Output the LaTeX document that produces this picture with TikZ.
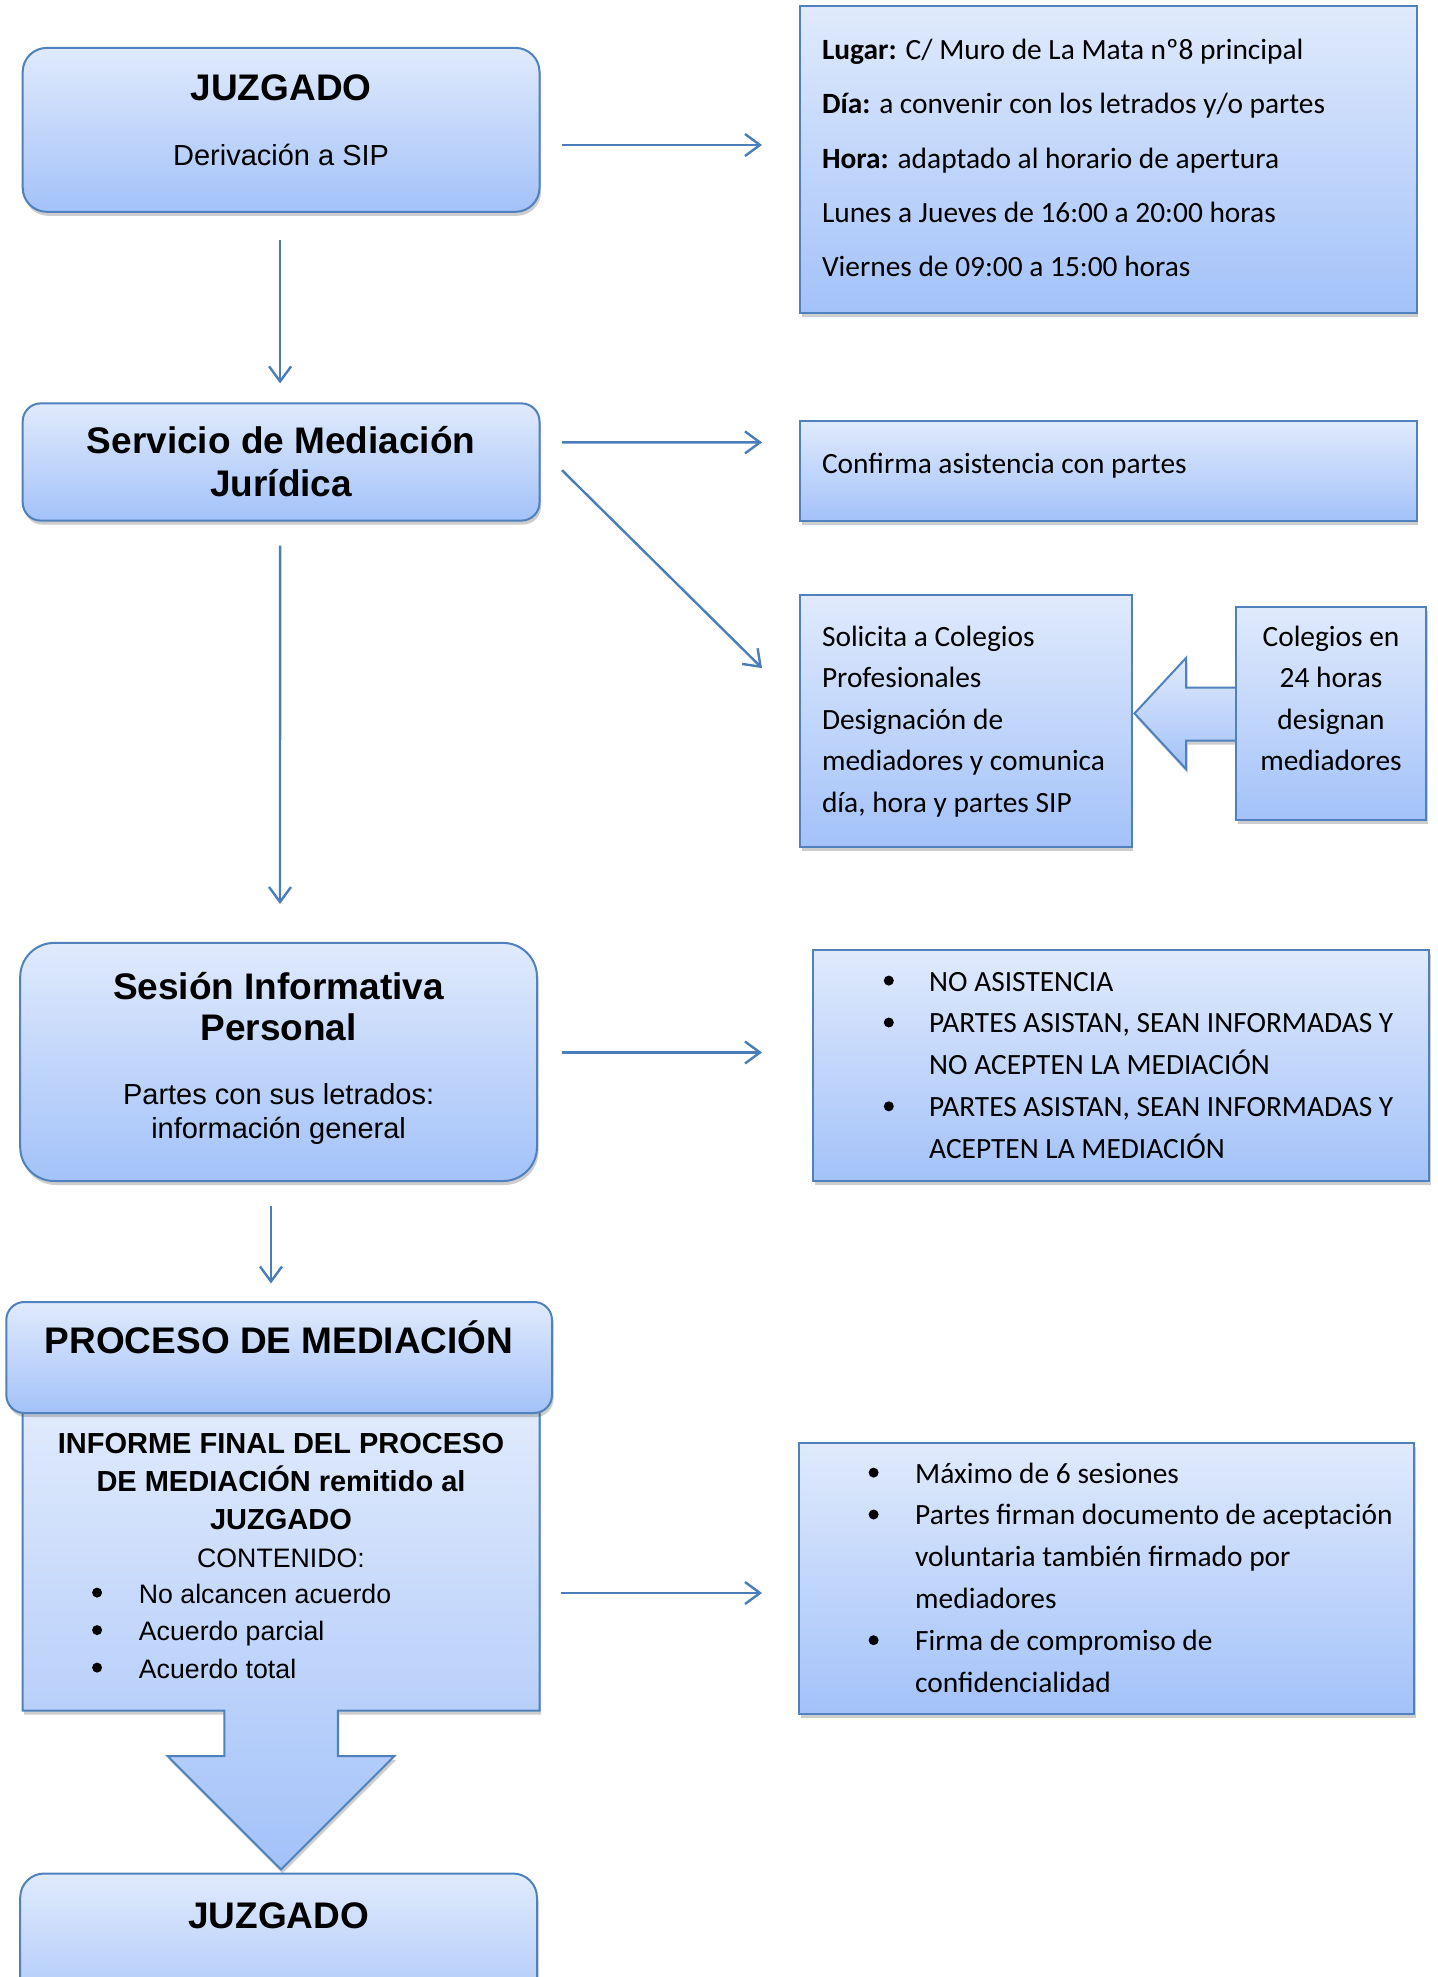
\documentclass[tikz,border=0pt]{standalone}
\usepackage{fontspec}
\setmainfont{Liberation Sans}
\newfontfamily\calfont{Carlito}
\usetikzlibrary{arrows.meta,shadows,calc}
\definecolor{bord}{RGB}{79,129,189}
\definecolor{arrc}{RGB}{74,126,187}
\definecolor{gtop}{RGB}{224,234,252}
\definecolor{gbot}{RGB}{163,194,249}
\newcommand\bitem[1]{\hspace*{#1}}
\begin{document}
\begin{tikzpicture}[x=1pt,y=-1pt,
  sh/.style={drop shadow={shadow xshift=1.5pt,shadow yshift=-4pt,opacity=0.28,fill=black!70}},
  panel/.style={draw=bord,line width=2pt,top color=gtop,bottom color=gbot,sh,inner sep=0pt},
  rpanel/.style={panel,rounded corners=#1},
  arr/.style={draw=arrc,line width=2.4pt,-{Straight Barb[length=15pt,width=22pt]}},
  ttl/.style={font=\fontsize{37}{43}\selectfont\bfseries,inner sep=0pt},
  txt/.style={font=\fontsize{29}{34}\selectfont,inner sep=0pt},
  cal/.style={font=\calfont\fontsize{29.4}{#1}\selectfont,inner sep=0pt,align=flush left},
  dot/.style={fill=black},
]
\path[use as bounding box,fill=white] (0,0) rectangle (1437,1977);

% ---------- left column ----------
\node[rpanel=24pt,minimum width=516.8pt,minimum height=163.9pt] (juz1) at (281.1,129.85) {};
\node[ttl,anchor=base] (juz1t) at (281.1,101) {JUZGADO};
\node[txt,anchor=base] (juz1s) at (281.1,165.4) {Derivación a SIP};

\node[rpanel=18pt,minimum width=516.8pt,minimum height=117.2pt] (serv) at (281.1,462) {};
\node[ttl,anchor=base,text width=510pt,align=flush center] (servt) at (281.1,453) {Servicio de Mediación\\Jurídica};

\node[rpanel=34pt,minimum width=516.8pt,minimum height=238.1pt] (ses) at (278.6,1061.95) {};
\node[ttl,anchor=base,text width=510pt,align=flush center,font=\fontsize{37}{41}\selectfont\bfseries] (sest) at (278.6,999.5) {Sesión Informativa\\Personal};
\node[txt,anchor=base,text width=510pt,align=flush center] (sess) at (278.6,1104) {Partes con sus letrados:\\información general};

% callout with down arrow
\path[panel] (22.7,1410) -- (539.5,1410) -- (539.5,1710.5) -- (337.8,1710.5) -- (337.8,1756)
  -- (394.5,1756) -- (281,1869.4) -- (167.6,1756) -- (224.4,1756) -- (224.4,1710.5)
  -- (22.7,1710.5) -- cycle;
\node[rpanel=18pt,minimum width=545.7pt,minimum height=111pt] (proc) at (279.15,1357.5) {};
\node[ttl,anchor=base] (proct) at (279.15,1353) {PROCESO DE MEDIACIÓN};
\node[txt,anchor=base,text width=520pt,align=flush center,font=\fontsize{29}{38.3}\selectfont] (inft) at (281,1453)
  {\textbf{INFORME FINAL DEL PROCESO}\\\textbf{DE MEDIACIÓN remitido al}\\\textbf{JUZGADO}\\{\fontsize{26.7}{38.3}\selectfont CONTENIDO:}};
\node[txt,anchor=base west,text width=420pt,align=flush left,font=\fontsize{26.7}{37.5}\selectfont] (infb) at (92,1603)
  {\bitem{46.7pt}No alcancen acuerdo\\\bitem{46.7pt}Acuerdo parcial\\\bitem{46.7pt}Acuerdo total};
\foreach \dy in {0,37.5,75} \fill[dot] ($(infb.base west)+(5.1,\dy-10.4)$) circle (5pt);
\coordinate (calr) at (539.5,1593);

\node[rpanel=24pt,minimum width=516.8pt,minimum height=164pt] (juz2) at (278.6,1955.5) {};
\node[ttl,anchor=base] (juz2t) at (278.6,1928) {JUZGADO};

% ---------- right column ----------
\node[panel,minimum width=616.4pt,minimum height=306.3pt] (info) at (1108.6,159.45) {};
\node[cal=54.3,anchor=base west,text width=590pt] (infot) at (821.8,59.5)
  {\textbf{Lugar:} C/ Muro de La Mata nº8 principal\\
   \textbf{Día:} a convenir con los letrados y/o partes\\
   \textbf{Hora:} adaptado al horario de apertura\\
   Lunes a Jueves de 16:00 a 20:00 horas\\
   Viernes de 09:00 a 15:00 horas};

\node[panel,minimum width=616.4pt,minimum height=99.6pt] (conf) at (1108.6,470.8) {};
\node[cal=35,anchor=base west] (conft) at (821.8,473.5) {Confirma asistencia con partes};

\node[panel,minimum width=331.5pt,minimum height=252pt] (sol) at (966.15,721) {};
\node[cal=41.6,anchor=base west,text width=310pt] (solt) at (821.8,646)
  {Solicita a Colegios\\Profesionales\\Designación de\\mediadores y comunica\\día, hora y partes SIP};
\draw[panel] (1134.5,713.4) -- (1186,658) -- (1186,687.5) -- (1240,687.5) -- (1240,740.5)
  -- (1186,740.5) -- (1186,769) -- cycle;
\node[panel,minimum width=190pt,minimum height=213pt] (col) at (1331,713.5) {};
\node[cal=41.6,anchor=base,text width=185pt,align=flush center] (colt) at (1331,646)
  {Colegios en\\24 horas\\designan\\mediadores};

\node[panel,minimum width=616.4pt,minimum height=230.6pt] (nob) at (1121.2,1065.7) {};
\node[cal=41.9,anchor=base west,text width=540pt] (nobt) at (883.7,991)
  {\bitem{45.3pt}NO ASISTENCIA\\
   \bitem{45.3pt}PARTES ASISTAN, SEAN INFORMADAS Y\\
   \bitem{45.3pt}NO ACEPTEN LA MEDIACIÓN\\
   \bitem{45.3pt}PARTES ASISTAN, SEAN INFORMADAS Y\\
   \bitem{45.3pt}ACEPTEN LA MEDIACIÓN};
\foreach \dy in {0,41.9,125.7} \fill[dot] ($(nobt.base west)+(5.1,\dy-10.4)$) circle (5pt);

\node[panel,minimum width=615.3pt,minimum height=271.3pt] (maxb) at (1106.65,1578.65) {};
\node[cal=41.9,anchor=base west,text width=540pt] (maxt) at (868.5,1483)
  {\bitem{46.5pt}Máximo de 6 sesiones\\
   \bitem{46.5pt}Partes firman documento de aceptación\\
   \bitem{46.5pt}voluntaria también firmado por\\
   \bitem{46.5pt}mediadores\\
   \bitem{46.5pt}Firma de compromiso de\\
   \bitem{46.5pt}confidencialidad};
\foreach \dy in {0,41.9,167.6} \fill[dot] ($(maxt.base west)+(5.1,\dy-10.4)$) circle (5pt);

% ---------- connectors ----------
\draw[arr] ($(juz1.east)+(21.5,15.15)$) -- ($(info.west)+(-37.4,-14.45)$);
\draw[arr] ($(serv.east)+(21.5,-19.6)$) -- ($(conf.west)+(-37.4,-28.4)$);
\draw[arr] ($(serv.east)+(21.5,8.2)$) -- ($(sol.west)+(-37.4,-52.9)$);
\draw[arr] ($(juz1.south)+(-1,27.7)$) -- ($(serv.north)+(-1,-19)$);
\draw[arr] ($(serv.south)+(-1,23.9)$) -- ($(ses.north)+(1.4,-37.9)$);
\draw[arr] ($(ses.east)+(24,-9.45)$) -- ($(nob.west)+(-50,-13.2)$);
\draw[arr] ($(ses.south)+(-7.6,24)$) -- ($(proc.north)+(-8.15,-17.5)$);
\draw[arr] ($(calr)+(21.5,0)$) -- ($(maxb.west |- calr)+(-36,0)$);
\end{tikzpicture}
\end{document}
